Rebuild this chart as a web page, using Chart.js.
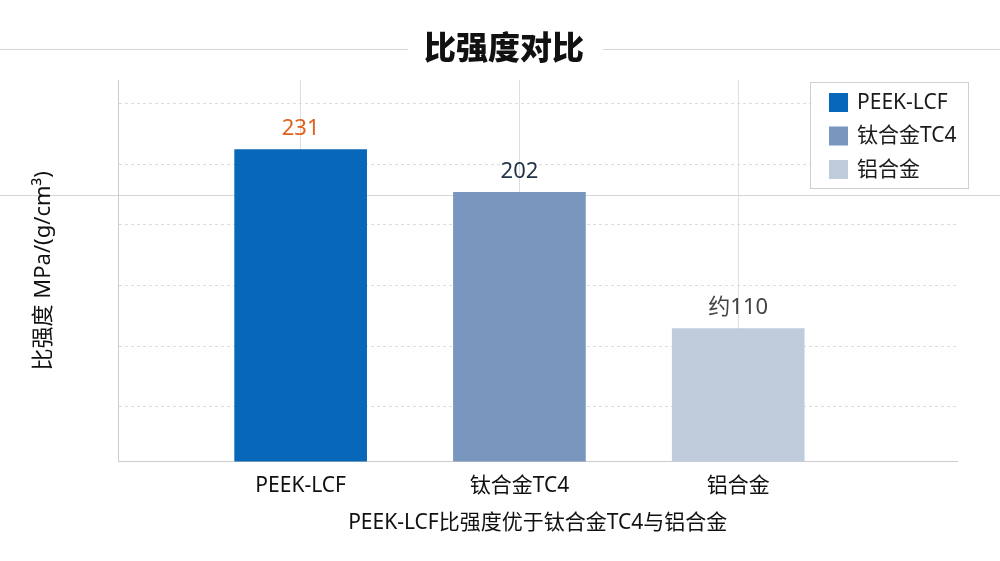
<!DOCTYPE html>
<html>
<head>
<meta charset="utf-8">
<script src="https://cdn.jsdelivr.net/npm/chart.js@4.4.1/dist/chart.umd.min.js"></script>
<style>
  html, body { margin: 0; padding: 0; background: #fff; }
  #wrap { width: 1000px; height: 561px; }
</style>
</head>
<body>
<div id="wrap"><canvas id="chart"></canvas></div>
<script>
// data
const chartTitle = '比强度对比';
const categories = ['PEEK-LCF', '钛合金TC4', '铝合金'];
const positions = [1, 2, 3];
const values = [231, 202, 110];
const valueLabels = ['231', '202', '约110'];
const barColors = ['#0767b9', '#7896be', '#bfccdb'];
const labelColors = ['#e0621c', '#25344a', '#444444'];
const yGrid = [57, 98, 139, 180, 221, 262];

const FONT = '"Noto Sans", "Noto Sans CJK SC", sans-serif';

// background rules and the heading sitting in the gap of the top rule
const backdrop = {
    id: 'backdrop',
    beforeDraw(chart) {
        const ctx = chart.ctx;
        ctx.save();
        ctx.fillStyle = '#ffffff';
        ctx.fillRect(0, 0, chart.width, chart.height);
        ctx.strokeStyle = '#d6d6d6';
        ctx.lineWidth = 1;
        ctx.beginPath();
        ctx.moveTo(0, 49.5); ctx.lineTo(408, 49.5);
        ctx.moveTo(603, 49.5); ctx.lineTo(chart.width, 49.5);
        ctx.moveTo(0, 195.5); ctx.lineTo(chart.width, 195.5);
        ctx.stroke();
        ctx.fillStyle = '#111111';
        ctx.font = '900 32px "Noto Sans CJK SC", sans-serif';
        ctx.textAlign = 'center';
        ctx.textBaseline = 'middle';
        ctx.fillText(chartTitle, 504, 47);
        ctx.restore();
    }
};

// value labels above bars
const barLabels = {
    id: 'barLabels',
    afterDatasetsDraw(chart) {
        const ctx = chart.ctx;
        const meta = chart.getDatasetMeta(0);
        ctx.save();
        ctx.font = '22px ' + FONT;
        ctx.textAlign = 'center';
        ctx.textBaseline = 'middle';
        meta.data.forEach((bar, i) => {
            ctx.fillStyle = labelColors[i];
            ctx.fillText(valueLabels[i], bar.x, bar.y - 21);
        });
        ctx.restore();
    }
};

// boxed legend, top right
const boxLegend = {
    id: 'boxLegend',
    afterDraw(chart) {
        const ctx = chart.ctx;
        ctx.save();
        ctx.fillStyle = '#ffffff';
        ctx.fillRect(810, 82, 158, 106);
        ctx.strokeStyle = '#cfcfcf';
        ctx.lineWidth = 1;
        ctx.strokeRect(810.5, 82.5, 158, 106);
        ctx.font = '21px ' + FONT;
        ctx.textBaseline = 'middle';
        ctx.textAlign = 'left';
        categories.forEach((c, i) => {
            const cy = 102 + i * 33.5;
            ctx.fillStyle = barColors[i];
            ctx.fillRect(829, cy - 9, 19, 19);
            ctx.fillStyle = '#1a1a1a';
            ctx.fillText(c, 857, cy + 1);
        });
        ctx.restore();
    }
};

new Chart(document.getElementById('chart').getContext('2d'), {
    type: 'bar',
    data: {
        datasets: [{
            data: positions.map((x, i) => ({ x: x, y: values[i] })),
            backgroundColor: barColors,
            barThickness: 132,
            borderWidth: 0
        }]
    },
    options: {
        responsive: true,
        maintainAspectRatio: false,
        animation: false,
        layout: { padding: { left: 0, right: 43, top: 80, bottom: 25 } },
        plugins: {
            legend: { display: false },
            tooltip: { enabled: false },
            title: { display: false }
        },
        scales: {
            x: {
                type: 'linear',
                offset: false,
                min: 0.167,
                max: 4,
                afterBuildTicks(scale) {
                    scale.ticks = positions.map(v => ({ value: v }));
                },
                grid: { color: '#dedede', drawTicks: false, offset: false },
                border: { color: '#cccccc' },
                ticks: {
                    padding: 12,
                    color: '#111111',
                    font: { family: FONT, size: 21 },
                    callback: (v) => categories[positions.indexOf(v)] || ''
                },
                title: {
                    display: true,
                    text: 'PEEK-LCF比强度优于钛合金TC4与铝合金',
                    color: '#111111',
                    font: { family: FONT, size: 21 },
                    padding: { top: 0, bottom: 0 }
                }
            },
            y: {
                min: 20,
                max: 278,
                afterBuildTicks(scale) {
                    scale.ticks = yGrid.map(v => ({ value: v }));
                },
                grid: { color: '#dcdcdc', drawTicks: false },
                border: { color: '#cccccc', dash: [3, 3] },
                ticks: { display: false },
                title: {
                    display: true,
                    text: '比强度 MPa/(g/cm³)',
                    color: '#111111',
                    font: { family: FONT, size: 22 },
                    padding: { top: 31, bottom: 61 }
                }
            }
        }
    },
    plugins: [backdrop, barLabels, boxLegend]
});
</script>
</body>
</html>
